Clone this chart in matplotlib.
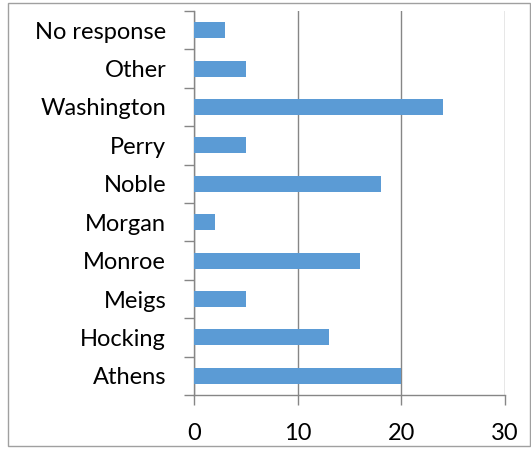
import matplotlib.pyplot as plt
from matplotlib.patches import Rectangle
import numpy as np

counties = ["Athens", "Hocking", "Meigs", "Monroe", "Morgan",
            "Noble", "Perry", "Washington", "Other", "No response"]
counts = [20, 13, 5, 16, 2, 18, 5, 24, 5, 3]
xticks = [0, 10, 20, 30]

plt.rcParams['font.family'] = ['Lato', 'DejaVu Sans']

fig = plt.figure(figsize=(5.31, 4.49), dpi=100)
ax = fig.add_axes([194/531, 1 - 395/449, (505 - 194)/531, (395 - 11)/449])

y = np.arange(len(counties))
ax.barh(y, counts, height=0.42, color="#5B9BD5", zorder=3)

ax.set_xlim(0, 30)
ax.set_ylim(-0.5, len(counties) - 0.5)
ax.set_xticks(xticks)
ax.set_xticklabels([str(t) for t in xticks], fontsize=17)
ax.set_yticks(y)
ax.set_yticklabels(counties, fontsize=17)
ax.set_yticks(np.arange(-0.5, len(counties)), minor=True)

grid_col = "#868686"
ax.grid(axis="x", color=grid_col, linewidth=1, zorder=0)
ax.tick_params(axis="y", which="major", length=0, pad=20, colors="black")
ax.tick_params(axis="y", which="minor", length=7, color=grid_col, width=1)
ax.tick_params(axis="x", length=7, color=grid_col, width=1, pad=13)

for s in ["top", "right"]:
    ax.spines[s].set_visible(False)
for s in ["left", "bottom"]:
    ax.spines[s].set_color(grid_col)
    ax.spines[s].set_linewidth(1)

# outer chart frame
fig.patches.append(Rectangle((8/531, 3/449), 522/531, 443/449,
                             transform=fig.transFigure, fill=False,
                             edgecolor="#A0A0A0", linewidth=1))

fig.savefig("out.png", dpi=100)
